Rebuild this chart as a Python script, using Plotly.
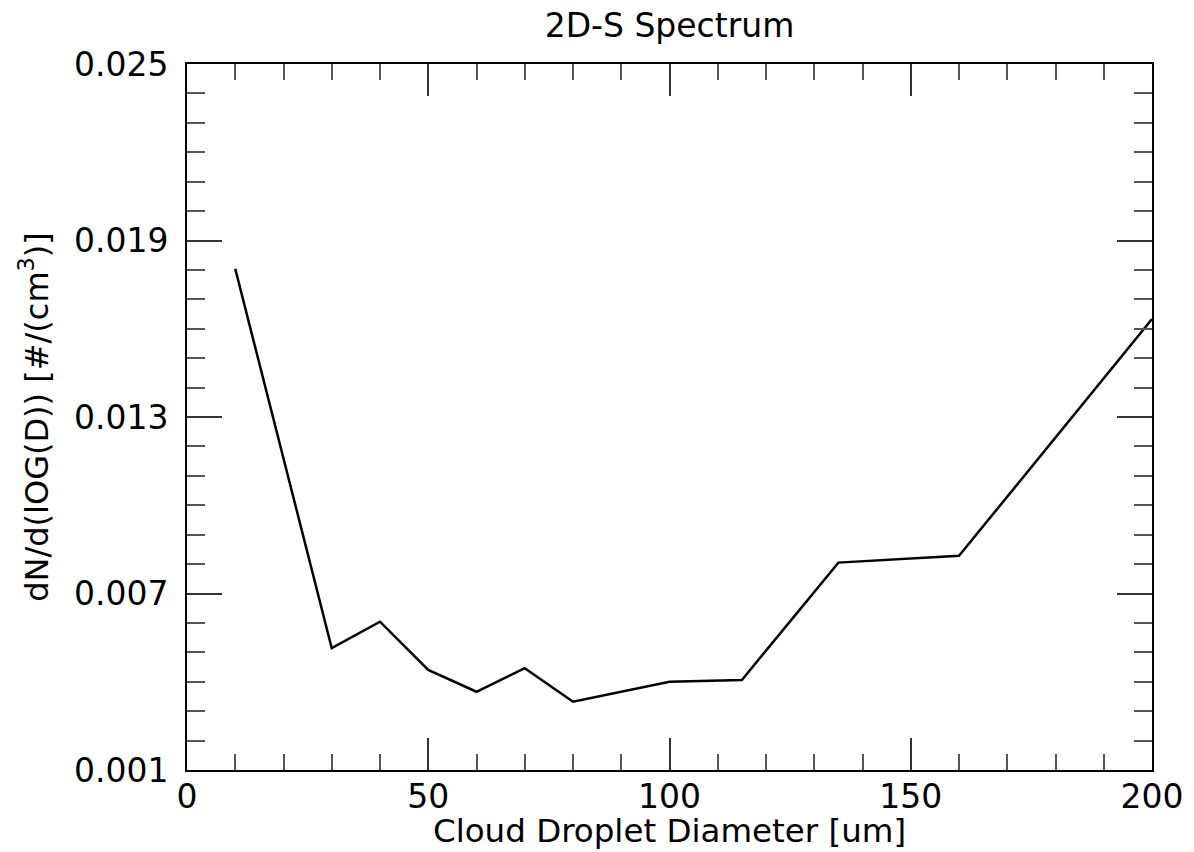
import plotly.graph_objects as go

diameter = [10, 30, 40, 50, 60, 70, 80, 100, 115, 135, 160, 200]
dndlogd = [0.01804, 0.00514, 0.00604, 0.00440, 0.00366, 0.00446, 0.00332,
           0.00400, 0.00406, 0.00805, 0.00828, 0.01633]

title_text = "2D-S Spectrum"
x_title = "Cloud Droplet Diameter [um]"
y_title = "dN/d(lOG(D)) [#/(cm<sup>3</sup>)]"

fig = go.Figure()
fig.add_trace(go.Scatter(x=diameter, y=dndlogd, mode="lines",
                         line=dict(color="black", width=2.5), showlegend=False))

tickfont = dict(family="DejaVu Sans", size=33, color="black")
labfont = dict(family="DejaVu Sans", size=32.5, color="black")

fig.update_layout(
    width=1194, height=852,
    margin=dict(l=187, r=42, t=64, b=82, autoexpand=False),
    paper_bgcolor="white", plot_bgcolor="white",
    title=dict(text=title_text, x=0.5, xref="paper", xanchor="center",
               y=1 - 25 / 852, yref="container", yanchor="middle",
               font=dict(family="DejaVu Sans", size=33, color="black")),
    annotations=[dict(text=x_title, xref="paper", yref="paper", x=0.5,
                      y=-(831 - 770) / 706, xanchor="center", yanchor="middle",
                      showarrow=False, font=labfont)],
)

fig.update_xaxes(
    range=[0, 200], tickmode="linear", tick0=0, dtick=50,
    ticks="inside", ticklen=32, tickwidth=1.5, tickcolor="#333",
    minor=dict(ticks="inside", dtick=10, tick0=0, ticklen=16, tickwidth=1.5, tickcolor="#555", showgrid=False),
    showline=True, linecolor="black", linewidth=2, mirror="allticks",
    showgrid=False, zeroline=False, tickfont=tickfont, ticklabelstandoff=-4,
    automargin=False,
)
fig.update_yaxes(
    range=[0.001, 0.025], tickmode="linear", tick0=0.001, dtick=0.006,
    tickformat=".3f",
    ticks="inside", ticklen=35, tickwidth=1.5, tickcolor="#333",
    minor=dict(ticks="inside", dtick=0.001, tick0=0.001, ticklen=18, tickwidth=1.5, tickcolor="#555", showgrid=False),
    showline=True, linecolor="black", linewidth=2, mirror="allticks",
    showgrid=False, zeroline=False, tickfont=tickfont, ticklabelstandoff=10,
    automargin=False,
    title=dict(text=y_title, font=dict(family="DejaVu Sans", size=32, color="black"), standoff=16),
)

fig.write_html("out.html")
